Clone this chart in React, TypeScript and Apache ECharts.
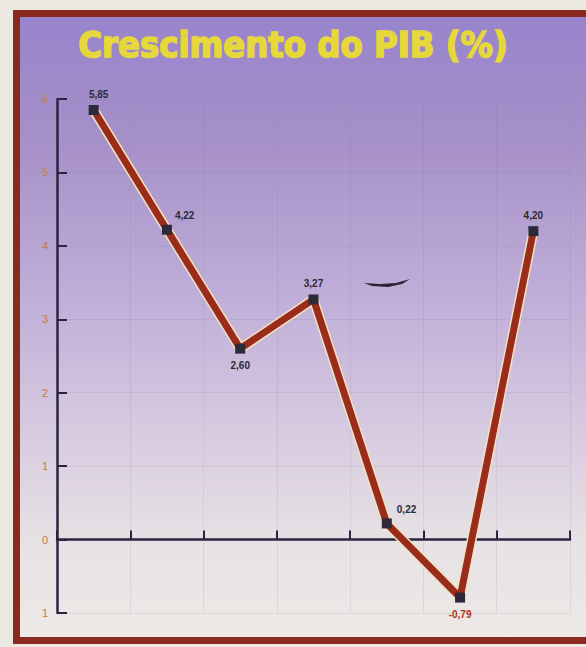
import React, { useEffect, useRef } from "react";
import * as echarts from "echarts";

const categories = ["1", "2", "3", "4", "5", "6", "7"];
const pibValues = [5.85, 4.22, 2.6, 3.27, 0.22, -0.79, 4.2];
const valueLabels = ["5,85", "4,22", "2,60", "3,27", "0,22", "-0,79", "4,20"];
const yTickLabels: Record<string, string> = {
  "-1": "1", "0": "0", "1": "1", "2": "2", "3": "3", "4": "4", "5": "5", "6": "6",
};
const titleText = "Crescimento do PIB (%)";

const labelPlacement: any[] = [
  { position: "top", offset: [5, -1] },
  { position: "right", offset: [-2, -14] },
  { position: "bottom", offset: [0, 2] },
  { position: "top", offset: [0, -1] },
  { position: "right", offset: [0, -14] },
  { position: "bottom", offset: [0, 2], color: "#b0301c" },
  { position: "top", offset: [0, -1] },
];

export default function App() {
  const ref = useRef<HTMLDivElement>(null);
  useEffect(() => {
    document.body.style.margin = "0";
    const chart = echarts.init(ref.current!, null, { renderer: "svg" });
    chart.setOption({
      animation: false,
      backgroundColor: "#ece8e2",
      graphic: [
        {
          type: "rect",
          z: -10,
          shape: { x: 13, y: 10, width: 590, height: 634 },
          style: { fill: "#8a2a1e" },
        },
        {
          type: "rect",
          z: -9,
          shape: { x: 20, y: 17, width: 580, height: 620 },
          style: {
            fill: new echarts.graphic.LinearGradient(0, 0, 0, 1, [
              { offset: 0, color: "#9884cc" },
              { offset: 0.2, color: "#a690c8" },
              { offset: 0.45, color: "#bfaed8" },
              { offset: 0.68, color: "#d8cce0" },
              { offset: 0.85, color: "#e7e2e4" },
              { offset: 1, color: "#ece9e6" },
            ]),
          },
        },
        {
          type: "polygon",
          z: 5,
          shape: {
            points: [[364, 283], [380, 284], [396, 283], [410, 279], [402, 284], [388, 287], [372, 286]],
          },
          style: { fill: "#2a2436" },
        },
      ],
      title: {
        text: titleText,
        left: "center",
        top: 21,
        textStyle: {
          fontFamily: "DejaVu Sans Condensed",
          fontWeight: "bold",
          fontSize: 36,
          color: "#e6d83a",
          textBorderColor: "#e6d83a",
          textBorderWidth: 1.5,
        },
      },
      grid: { left: 57, right: 16, top: 99, bottom: 34 },
      xAxis: {
        type: "category",
        data: categories,
        boundaryGap: true,
        axisLine: { show: true, onZero: true, lineStyle: { color: "#2a2440", width: 2.5 } },
        axisTick: { show: true, inside: true, interval: 0, length: 9, lineStyle: { color: "#2a2440", width: 2 } },
        axisLabel: { show: false },
        splitLine: { show: true, interval: 0, lineStyle: { color: "rgba(120,110,140,0.12)", width: 1 } },
      },
      yAxis: {
        type: "value",
        min: -1,
        max: 6,
        interval: 1,
        axisLine: { show: true, onZero: false, lineStyle: { color: "#2a2440", width: 2.5 } },
        axisTick: { show: true, inside: true, length: 10, lineStyle: { color: "#2a2440", width: 2 } },
        axisLabel: {
          margin: 9,
          color: "#c87a48",
          fontFamily: "Liberation Sans",
          fontSize: 11,
          formatter: (v: number) => yTickLabels[String(v)] ?? String(v),
        },
        splitLine: { show: true, lineStyle: { color: "rgba(120,110,140,0.14)", width: 1 } },
      },
      series: [
        {
          type: "line",
          data: pibValues,
          symbol: "none",
          silent: true,
          z: 1,
          lineStyle: { color: "#f2e2c4", width: 10 },
        },
        {
          type: "line",
          data: pibValues.map((v, i) => ({
            value: v,
            label: {
              show: true,
              formatter: valueLabels[i],
              ...labelPlacement[i],
            },
          })),
          symbol: "rect",
          symbolSize: 10,
          z: 2,
          itemStyle: { color: "#2c2a3a" },
          lineStyle: { color: "#9a2c1c", width: 7 },
          label: {
            show: true,
            color: "#2c2a36",
            fontFamily: "Liberation Sans",
            fontWeight: "bold",
            fontSize: 10,
          },
        },
      ],
    });
    return () => chart.dispose();
  }, []);
  return <div ref={ref} style={{ width: 586, height: 647 }} />;
}
